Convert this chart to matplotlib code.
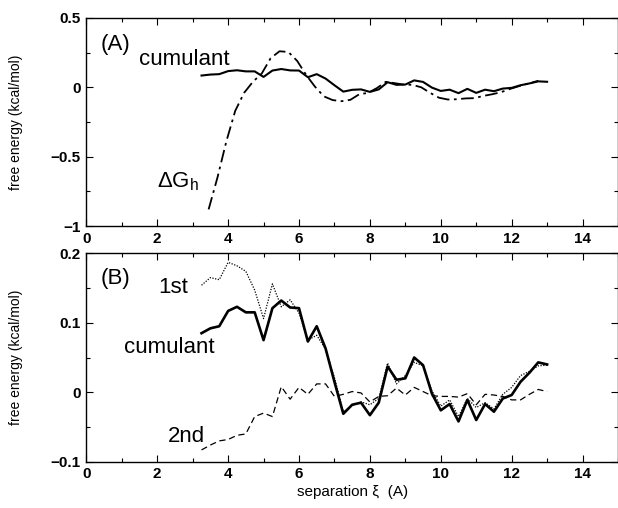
import numpy as np
import matplotlib
matplotlib.use("Agg")
import matplotlib.pyplot as plt
from matplotlib.ticker import MultipleLocator, FuncFormatter

plt.rcParams['font.family'] = ['Liberation Sans', 'DejaVu Sans']
plt.rcParams['mathtext.default'] = 'regular'

# separation grid of the cumulant expansion (A)
sep = [3.25, 3.5, 3.75, 4.0, 4.25, 4.5, 4.75, 5.0, 5.25, 5.5,
       5.75, 6.0, 6.25, 6.5, 6.75, 7.0, 7.25, 7.5, 7.75, 8.0,
       8.25, 8.5, 8.75, 9.0, 9.25, 9.5, 9.75, 10.0, 10.25, 10.5,
       10.75, 11.0, 11.25, 11.5, 11.75, 12.0, 12.25, 12.5, 12.75, 13.0]

cumulant = [0.085, 0.092, 0.095, 0.117, 0.123, 0.115, 0.115, 0.075, 0.121, 0.132,
            0.122, 0.121, 0.073, 0.095, 0.063, 0.015, -0.031, -0.018, -0.015, -0.033,
            -0.015, 0.037, 0.018, 0.020, 0.050, 0.039, -0.002, -0.026, -0.017, -0.042,
            -0.011, -0.040, -0.017, -0.028, -0.009, -0.004, 0.015, 0.028, 0.043, 0.040]

first = [0.154, 0.165, 0.162, 0.187, 0.182, 0.174, 0.147, 0.106, 0.156, 0.123,
         0.133, 0.114, 0.075, 0.082, 0.062, 0.021, -0.028, -0.019, -0.014, -0.018,
         -0.009, 0.042, 0.012, 0.024, 0.043, 0.038, 0.002, -0.020, -0.011, -0.035,
         -0.009, -0.022, -0.015, -0.024, -0.003, 0.007, 0.024, 0.030, 0.038, 0.039]

second = [-0.083, -0.076, -0.070, -0.068, -0.062, -0.060, -0.035, -0.030, -0.035, 0.008,
          -0.010, 0.007, -0.003, 0.012, 0.012, -0.006, -0.003, 0.001, -0.001, -0.014,
          -0.006, -0.005, 0.006, -0.004, 0.007, 0.001, -0.005, -0.006, -0.006, -0.007,
          -0.002, -0.018, -0.003, -0.004, -0.006, -0.011, -0.011, -0.003, 0.004, 0.001]

# hydration free energy curve
dg_x = [3.45, 3.7, 3.95, 4.2, 4.45, 4.7, 4.95, 5.2, 5.45, 5.7,
        5.95, 6.2, 6.45, 6.7, 6.95, 7.2, 7.45, 7.7, 7.95, 8.2,
        8.45, 8.7, 8.95, 9.2, 9.45, 9.7, 9.95, 10.2, 10.45, 10.7,
        10.95, 11.2, 11.45, 11.7, 11.95, 12.2, 12.45, 12.75]
dg_h = [-0.88, -0.65, -0.39, -0.17, -0.04, 0.04, 0.10, 0.21, 0.26, 0.255,
        0.19, 0.09, 0.005, -0.065, -0.092, -0.10, -0.09, -0.05, -0.04, -0.005,
        0.04, 0.03, 0.02, 0.018, 0.0, -0.04, -0.075, -0.088, -0.086, -0.08,
        -0.078, -0.062, -0.05, -0.035, -0.012, 0.008, 0.026, 0.047]


def short_fmt(v, pos):
    s = '%g' % round(v, 6)
    return s.replace('-', '\u2212')


fig = plt.figure(figsize=(6.18, 5.08), dpi=100)
ax1 = fig.add_axes([0.1397, 0.5551, 0.8603, 0.4095])
ax2 = fig.add_axes([0.1397, 0.0911, 0.8603, 0.4103])

ax1.plot(sep, cumulant, color='black', lw=1.5)
ax1.plot(dg_x, dg_h, color='black', lw=1.3, linestyle=(0, (7, 2.5, 1.5, 2.5)))
ax1.set_ylim(-1, 0.5)
ax1.yaxis.set_major_locator(MultipleLocator(0.5))
ax1.yaxis.set_minor_locator(MultipleLocator(0.25))
ax1.text(0.41, 0.269, '(A)', fontsize=16)
ax1.text(1.48, 0.161, 'cumulant', fontsize=16)
ax1.text(1.99, -0.718, r'$\Delta G_h$', fontsize=16)

ax2.plot(sep, first, color='black', lw=0.9, linestyle=(0, (1, 1.2)))
ax2.plot(sep, second, color='black', lw=0.9, linestyle=(0, (5, 3)))
ax2.plot(sep, cumulant, color='black', lw=1.9)
ax2.set_ylim(-0.1, 0.2)
ax2.yaxis.set_major_locator(MultipleLocator(0.1))
ax2.yaxis.set_minor_locator(MultipleLocator(0.05))
ax2.text(0.41, 0.156, '(B)', fontsize=16)
ax2.text(2.02, 0.143, '1st', fontsize=16)
ax2.text(1.06, 0.0565, 'cumulant', fontsize=16)
ax2.text(2.30, -0.0716, '2nd', fontsize=16)
ax2.set_xlabel('separation ξ  (A)', fontsize=11, labelpad=3)

for ax in (ax1, ax2):
    ax.set_xlim(0, 15)
    ax.xaxis.set_major_locator(MultipleLocator(2))
    ax.xaxis.set_minor_locator(MultipleLocator(1))
    ax.yaxis.set_major_formatter(FuncFormatter(short_fmt))
    ax.tick_params(which='both', direction='in', top=True, right=True, width=0.8)
    ax.tick_params(which='major', length=5, labelsize=11, pad=4)
    ax.tick_params(which='minor', length=3)
    for lab in ax.get_xticklabels() + ax.get_yticklabels():
        lab.set_fontweight('bold')
    ax.set_ylabel('free energy (kcal/mol)', fontsize=10)
    ax.yaxis.set_label_coords(-0.12, 0.5)
    for sp in ax.spines.values():
        sp.set_linewidth(1.0)

fig.savefig('out.png', dpi=100)
